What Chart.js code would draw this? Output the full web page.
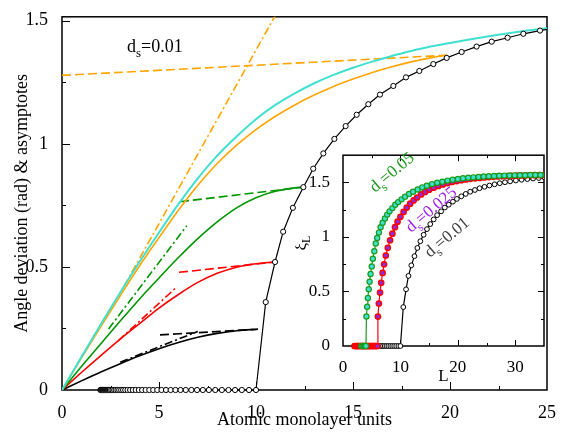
<!DOCTYPE html>
<html>
<head>
<meta charset="utf-8">
<script src="https://cdn.jsdelivr.net/npm/chart.js@4.4.0/dist/chart.umd.min.js"></script>
<style>
  body { margin: 0; background: #fff; }
  #wrap { position: relative; width: 575px; height: 435px; }
  #main { position: absolute; left: 0; top: 0; }
  #inset { position: absolute; left: 295px; top: 140px; }
</style>
</head>
<body>
<div id="wrap">
  <canvas id="main" width="575" height="435"></canvas>
  <canvas id="inset" width="255" height="245"></canvas>
</div>
<script>
// ---- main panel data (angle deviation vs thickness) ----
const xTicksMain = [0, 5, 10, 15, 20, 25];
const yTicksMain = [0, 0.5, 1, 1.5];

const cyanX = [0, 1, 2, 3, 4, 5, 6, 7, 8, 9, 10, 11, 12, 13, 14, 15, 16, 17, 18, 19, 20, 21, 22, 23, 24, 25];
const cyanY = [0, 0.134, 0.267, 0.396, 0.521, 0.64, 0.755, 0.86, 0.952, 1.03, 1.1, 1.158, 1.205, 1.246, 1.28, 1.309, 1.334, 1.357, 1.377, 1.395, 1.41, 1.424, 1.437, 1.449, 1.46, 1.47];

const orangeX = [0, 1, 2, 3, 4, 5, 6, 7, 8, 9, 10, 11, 12, 13, 14, 15, 16, 17, 18, 19, 19.85];
const orangeY = [0, 0.13, 0.258, 0.383, 0.505, 0.619, 0.73, 0.832, 0.92, 0.995, 1.058, 1.112, 1.158, 1.198, 1.233, 1.263, 1.29, 1.313, 1.333, 1.349, 1.36];
const orangeDashX = [0, 19.85];
const orangeDashY = [1.278, 1.36];
const orangeDotX = [3.2, 11.3];
const orangeDotY = [0.422, 1.564];

const greenX = [0, 1, 2, 3, 4, 5, 6, 7, 8, 9, 10, 11, 12, 12.44];
const greenY = [0, 0.095, 0.188, 0.28, 0.37, 0.455, 0.538, 0.615, 0.683, 0.74, 0.781, 0.807, 0.821, 0.824];
const greenDashX = [6.08, 12.44];
const greenDashY = [0.765, 0.824];
const greenDotX = [2.4, 6.43];
const greenDotY = [0.248, 0.667];

const redX = [0, 1, 2, 3, 4, 5, 6, 7, 8, 9, 10, 10.98];
const redY = [0, 0.071, 0.14, 0.207, 0.27, 0.333, 0.388, 0.437, 0.474, 0.499, 0.513, 0.52];
const redDashX = [6.03, 10.98];
const redDashY = [0.478, 0.52];
const redDotX = [2.9, 5.91];
const redDotY = [0.2, 0.418];

const blackX = [0, 1, 2, 3, 4, 5, 6, 7, 8, 9, 10.1];
const blackY = [0, 0.037, 0.073, 0.107, 0.139, 0.168, 0.193, 0.214, 0.23, 0.241, 0.247];
const blackDashX = [5.05, 10.1];
const blackDashY = [0.224, 0.247];
const blackDotX = [3.0, 7.0];
const blackDotY = [0.113, 0.238];

// xi_L for d_s = 0.01 (drawn in both panels)
const blackL = [1.98, 2.0, 2.02, 2.04, 2.06, 2.08, 2.1, 2.12, 2.14, 2.17, 2.19, 2.22, 2.24, 2.27, 2.29, 2.32, 2.35, 2.38, 2.41, 2.44,
  2.47, 2.54, 2.61, 2.69, 2.77, 2.86, 2.95, 3.05, 3.15, 3.26,
  3.38, 3.51, 3.65, 3.8, 3.96, 4.13, 4.31, 4.5, 4.7, 4.91, 5.13, 5.36, 5.6, 5.85, 6.11, 6.38, 6.67, 6.96, 7.26, 7.57,
  7.9, 8.24, 8.58, 8.92, 9.27, 9.64, 10.0,
  10.5, 10.98, 11.4, 11.9, 12.44, 12.95, 13.47, 14.04, 14.62, 15.19, 15.79, 16.39, 17.08, 17.73, 18.42, 19.14, 19.83,
  20.6, 21.37, 22.15, 22.97, 23.78, 24.64, 25.5, 26.4, 27.3, 28.2, 29.1, 30.1, 31.1, 32.1, 33.1, 34.1, 35.1];
const blackXi = [0, 0, 0, 0, 0, 0, 0, 0, 0, 0, 0, 0, 0, 0, 0, 0, 0, 0, 0, 0,
  0, 0, 0, 0, 0, 0, 0, 0, 0, 0,
  0, 0, 0, 0, 0, 0, 0, 0, 0, 0, 0, 0, 0, 0, 0, 0, 0, 0, 0, 0,
  0, 0, 0, 0, 0, 0, 0,
  0.357, 0.52, 0.643, 0.74, 0.824, 0.899, 0.961, 1.02, 1.072, 1.118, 1.161, 1.2, 1.235, 1.27, 1.296, 1.324, 1.349,
  1.373, 1.395, 1.415, 1.431, 1.447, 1.46, 1.472, 1.483, 1.493, 1.502, 1.51, 1.518, 1.525, 1.531, 1.536, 1.541, 1.545];

// ---- inset data ----
const xTicksInset = [0, 10, 20, 30];
const yTicksInset = [0, 0.5, 1, 1.5];

const greenL = [3.2, 3.4, 3.6, 3.8, 4.0,
  4.08, 4.2, 4.33, 4.48, 4.63, 4.8, 5.0, 5.2, 5.45, 5.7, 5.95, 6.25, 6.55, 6.9, 7.3, 7.7, 8.1, 8.6, 9.1, 9.6,
  10.2, 10.8, 11.5, 12.2, 13.0, 13.8, 14.6, 15.5, 16.4, 17.3, 18.2, 19.1, 20.0, 20.9, 21.8, 22.7, 23.6, 24.5,
  25.4, 26.3, 27.2, 28.1, 29.0, 29.9, 30.8, 31.7, 32.6, 33.5, 34.4, 35.3];
const greenXi = [0, 0, 0, 0, 0,
  0.27, 0.36, 0.44, 0.52, 0.59, 0.66, 0.73, 0.8, 0.87, 0.94, 0.99, 1.04, 1.09, 1.13, 1.17, 1.205, 1.235, 1.265, 1.295, 1.32,
  1.345, 1.37, 1.395, 1.415, 1.435, 1.455, 1.47, 1.485, 1.497, 1.507, 1.517, 1.525, 1.532, 1.538, 1.543, 1.547, 1.551, 1.554,
  1.557, 1.559, 1.561, 1.563, 1.564, 1.565, 1.566, 1.567, 1.568, 1.568, 1.569, 1.569];

const redL = [2.0, 2.2, 2.4, 2.6, 2.8, 3.0, 3.2, 3.4, 3.6, 3.8, 4.0, 4.2, 4.4, 4.6, 4.8, 5.0, 5.2, 5.4, 5.6, 5.8, 6.0,
  6.08, 6.25, 6.45, 6.65, 6.9, 7.15, 7.45, 7.8, 8.2, 8.6, 9.05, 9.5, 10.0, 10.55, 11.1, 11.7, 12.3, 12.9, 13.6, 14.3,
  15.0, 15.8, 16.6, 17.4, 18.2, 19.0, 19.8, 20.6, 21.4, 22.2, 23.0, 23.8, 24.6, 25.4, 26.2, 27.0, 27.8, 28.6, 29.4,
  30.2, 31.0, 31.8, 32.6, 33.4, 34.2, 35.0];
const redXi = [0, 0, 0, 0, 0, 0, 0, 0, 0, 0, 0, 0, 0, 0, 0, 0, 0, 0, 0, 0, 0,
  0.27, 0.39, 0.49, 0.58, 0.67, 0.75, 0.83, 0.9, 0.97, 1.03, 1.09, 1.14, 1.185, 1.23, 1.27, 1.305, 1.335, 1.362, 1.39, 1.413,
  1.433, 1.452, 1.468, 1.482, 1.494, 1.504, 1.513, 1.521, 1.527, 1.533, 1.538, 1.542, 1.546, 1.549, 1.552, 1.555, 1.557, 1.559, 1.561,
  1.562, 1.564, 1.565, 1.566, 1.567, 1.568, 1.568];

const SERIF = '"Liberation Serif", "Times New Roman", serif';
Chart.defaults.font.family = SERIF;
Chart.defaults.color = '#000';

const pts = (xs, ys) => xs.map((x, i) => ({x: x, y: ys[i]}));

function line(xs, ys, color, width, dash) {
  return {
    data: pts(xs, ys), showLine: true, borderColor: color, borderWidth: width,
    borderDash: dash || [], pointRadius: 0, fill: false,
    cubicInterpolationMode: 'monotone', tension: 0.4
  };
}

function circles(xs, ys, lineColor, fill, r, bw) {
  return {
    data: pts(xs, ys), showLine: true, borderColor: lineColor, borderWidth: 1.2,
    pointRadius: r, pointBackgroundColor: fill, pointBorderColor: lineColor, pointBorderWidth: bw,
    tension: 0, clip: {left: 6, top: 0, right: 0, bottom: 6}
  };
}

function drawSub(ctx, x, y, rot, color, size, main, sub, rest) {
  ctx.save();
  ctx.translate(x, y);
  ctx.rotate(rot);
  ctx.fillStyle = color;
  ctx.textAlign = 'left';
  ctx.textBaseline = 'alphabetic';
  ctx.font = size + 'px ' + SERIF;
  ctx.fillText(main, 0, 0);
  let w = ctx.measureText(main).width;
  ctx.font = Math.round(size * 0.7) + 'px ' + SERIF;
  ctx.fillText(sub, w, size * 0.3);
  w += ctx.measureText(sub).width;
  ctx.font = size + 'px ' + SERIF;
  ctx.fillText(rest, w, 0);
  ctx.restore();
}

// frame + inward ticks (major and one minor between)
function framePlugin(mirror, majorLen, minorLen) {
  return {
    id: 'frame',
    beforeDatasetsDraw(chart) {
      const {ctx, chartArea: a} = chart;
      const xs = chart.scales.x, ys = chart.scales.y;
      ctx.save();
      ctx.fillStyle = '#fff';
      ctx.fillRect(a.left, a.top, a.right - a.left, a.bottom - a.top);
      ctx.strokeStyle = '#000';
      ctx.lineWidth = 1;
      ctx.beginPath();
      const xv = xs.ticks.map(t => t.value), yv = ys.ticks.map(t => t.value);
      const xStep = xv[1] - xv[0], yStep = yv[1] - yv[0];
      const xAll = [], yAll = [];
      xv.forEach(v => { xAll.push([v, majorLen]); xAll.push([v + xStep / 2, minorLen]); });
      yv.forEach(v => { yAll.push([v, majorLen]); yAll.push([v + yStep / 2, minorLen]); });
      xAll.forEach(([v, len]) => {
        if (v <= xs.min || v >= xs.max) return;
        const p = Math.round(xs.getPixelForValue(v)) + 0.5;
        ctx.moveTo(p, a.bottom); ctx.lineTo(p, a.bottom - len);
        if (mirror) { ctx.moveTo(p, a.top); ctx.lineTo(p, a.top + len); }
      });
      yAll.forEach(([v, len]) => {
        if (v <= ys.min || v >= ys.max) return;
        const p = Math.round(ys.getPixelForValue(v)) + 0.5;
        ctx.moveTo(a.left, p); ctx.lineTo(a.left + len, p);
        if (mirror) { ctx.moveTo(a.right, p); ctx.lineTo(a.right - len, p); }
      });
      ctx.stroke();
      ctx.lineWidth = 1.5;
      ctx.strokeRect(a.left, a.top, a.right - a.left, a.bottom - a.top);
      ctx.restore();
    }
  };
}

const mainLabels = {
  id: 'mainLabels',
  afterDraw(chart) {
    drawSub(chart.ctx, 127, 52, 0, '#000', 18, 'd', 's', '=0.01');
  }
};

const insetLabels = {
  id: 'insetLabels',
  afterDraw(chart) {
    const ctx = chart.ctx;
    const rot = -40 * Math.PI / 180;
    drawSub(ctx, 80, 53, rot, '#1a9a1a', 17, 'd', 's', '=0.05');
    drawSub(ctx, 116, 93, rot, '#a020f0', 17, 'd', 's', '=0.025');
    drawSub(ctx, 135, 118, rot, '#404040', 17, 'd', 's', '=0.01');
    // y title xi_L
    ctx.save();
    ctx.translate(11, 103);
    ctx.rotate(-Math.PI / 2);
    ctx.fillStyle = '#000';
    ctx.textBaseline = 'alphabetic';
    ctx.font = '17px ' + SERIF;
    const w1 = ctx.measureText('\u03be').width;
    ctx.font = '12px ' + SERIF;
    const w2 = ctx.measureText('L').width;
    ctx.font = '17px ' + SERIF;
    ctx.fillText('\u03be', -(w1 + w2) / 2, 0);
    ctx.font = '12px ' + SERIF;
    ctx.fillText('L', -(w1 + w2) / 2 + w1, 4);
    ctx.restore();
  }
};

const tickFmt = v => String(v);
const tickFont = size => ({family: SERIF, size: size});

new Chart(document.getElementById('main'), {
  type: 'scatter',
  data: {
    datasets: [
      circles(blackL, blackXi, '#000', '#fff', 2.6, 1),
      line(cyanX, cyanY, '#40e0d0', 2),
      line(orangeX, orangeY, '#ffa500', 1.6),
      line(orangeDashX, orangeDashY, '#ffa500', 1.6, [9, 4]),
      line(orangeDotX, orangeDotY, '#ffa500', 1.6, [8, 3, 2, 3]),
      line(greenX, greenY, '#009600', 1.6),
      line(greenDashX, greenDashY, '#009600', 1.6, [9, 4]),
      line(greenDotX, greenDotY, '#009600', 1.6, [8, 3, 2, 3]),
      line(redX, redY, '#ff0000', 1.6),
      line(redDashX, redDashY, '#ff0000', 1.6, [9, 4]),
      line(redDotX, redDotY, '#ff0000', 1.6, [8, 3, 2, 3]),
      line(blackX, blackY, '#000', 1.6),
      line(blackDashX, blackDashY, '#000', 1.6, [9, 4]),
      line(blackDotX, blackDotY, '#000', 1.6, [8, 3, 2, 3])
    ]
  },
  options: {
    responsive: false,
    animation: false,
    devicePixelRatio: 1,
    layout: {padding: {left: 0, top: 3, right: 28, bottom: 0}},
    plugins: {legend: {display: false}, tooltip: {enabled: false}},
    scales: {
      x: {
        type: 'linear', min: 0, max: 25,
        afterBuildTicks: s => { s.ticks = xTicksMain.map(v => ({value: v})); },
        afterFit: s => { s.height = 45; },
        grid: {display: false}, border: {display: false},
        ticks: {padding: 4, font: tickFont(18), autoSkip: false, maxRotation: 0, callback: tickFmt},
        title: {display: true, text: 'Atomic monolayer units', font: {family: SERIF, size: 18}, padding: {bottom: 4}}
      },
      y: {
        type: 'linear', min: 0, max: 1.516,
        afterBuildTicks: s => { s.ticks = yTicksMain.map(v => ({value: v})); },
        afterFit: s => { s.width = 62; },
        grid: {display: false}, border: {display: false},
        ticks: {padding: 6, font: tickFont(18), callback: tickFmt},
        title: {display: true, text: 'Angle deviation (rad) & asymptotes', font: {family: SERIF, size: 18}, padding: {top: 11}}
      }
    }
  },
  plugins: [framePlugin(false, 8, 4), mainLabels]
});

new Chart(document.getElementById('inset'), {
  type: 'scatter',
  data: {
    datasets: [
      circles(greenL, greenXi, '#1a9a1a', '#40e0d0', 2.6, 1.2),
      circles(redL, redXi, '#ff0000', '#8a2be2', 2.6, 1.5),
      circles(blackL, blackXi, '#000', '#fff', 2.4, 1)
    ]
  },
  options: {
    responsive: false,
    animation: false,
    devicePixelRatio: 1,
    layout: {padding: {left: 0, top: 8, right: 6, bottom: 0}},
    plugins: {legend: {display: false}, tooltip: {enabled: false}},
    scales: {
      x: {
        type: 'linear', min: 0, max: 35,
        afterBuildTicks: s => { s.ticks = xTicksInset.map(v => ({value: v})); },
        afterFit: s => { s.height = 39; },
        grid: {display: false}, border: {display: false},
        ticks: {padding: 3, font: tickFont(17), autoSkip: false, maxRotation: 0, callback: tickFmt},
        title: {display: true, text: 'L', font: {family: SERIF, size: 17, lineHeight: 1}, padding: {bottom: 0}}
      },
      y: {
        type: 'linear', min: 0, max: 1.75,
        afterBuildTicks: s => { s.ticks = yTicksInset.map(v => ({value: v})); },
        afterFit: s => { s.width = 48; },
        grid: {display: false}, border: {display: false},
        ticks: {padding: 5, font: tickFont(17), callback: tickFmt}
      }
    }
  },
  plugins: [framePlugin(true, 6, 3), insetLabels]
});
</script>
</body>
</html>
